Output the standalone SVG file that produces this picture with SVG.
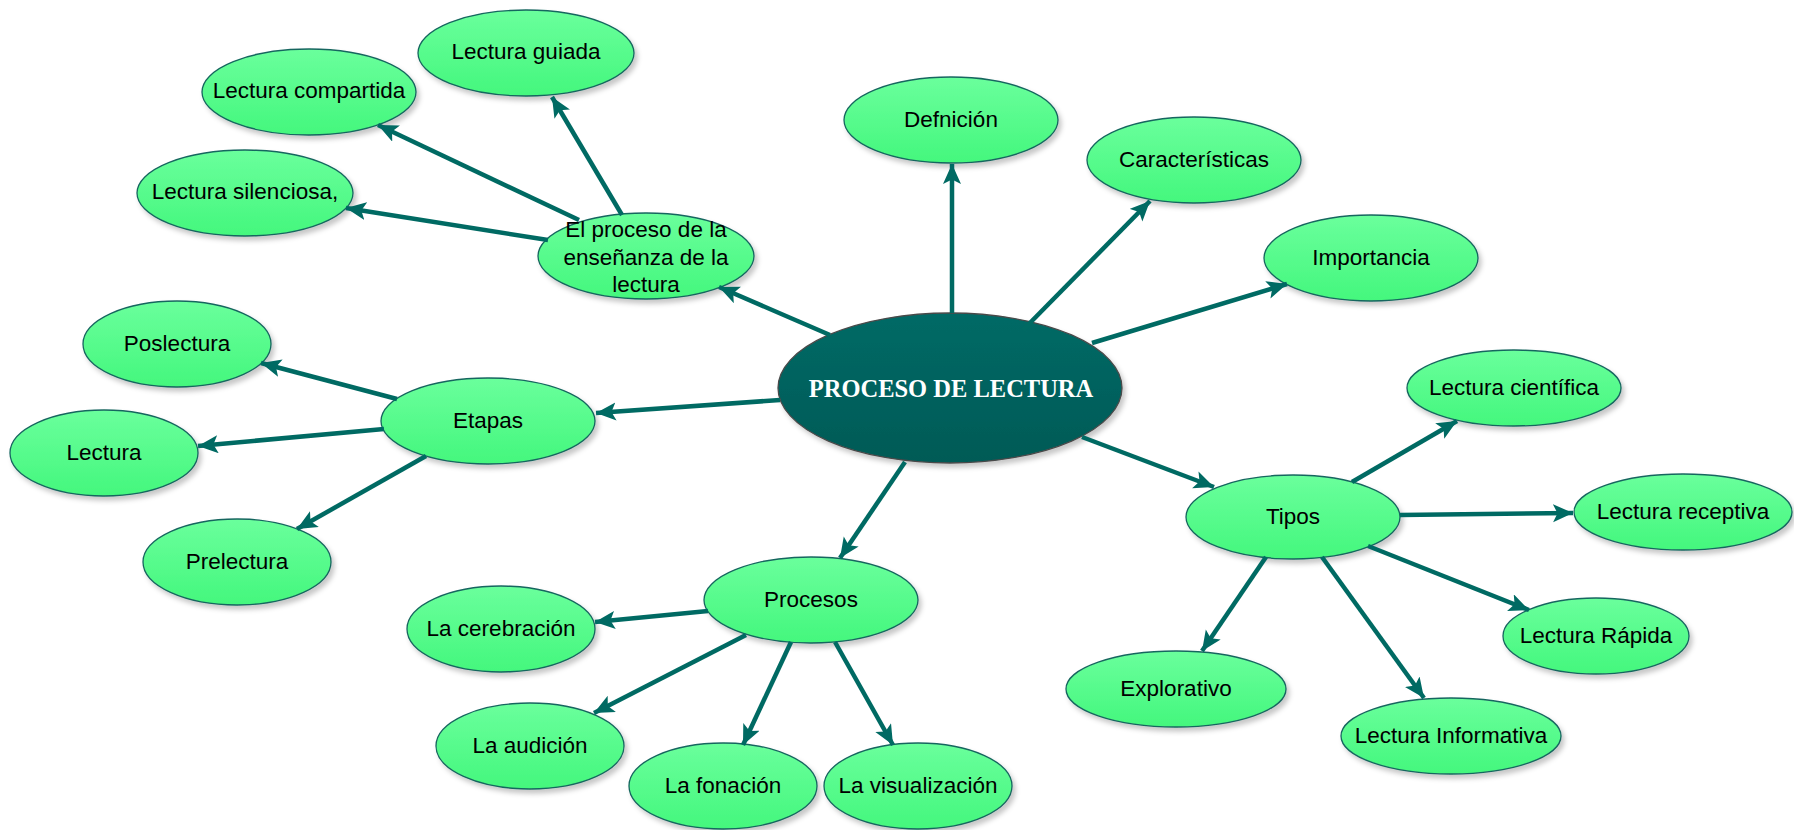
<svg xmlns="http://www.w3.org/2000/svg" width="1794" height="830" viewBox="0 0 1794 830">
<defs>
<linearGradient id="gGreen" x1="0" y1="0" x2="0" y2="1">
<stop offset="0" stop-color="#6AFF9C"/>
<stop offset="1" stop-color="#44F77D"/>
</linearGradient>
<linearGradient id="gDark" x1="0" y1="0" x2="0" y2="1">
<stop offset="0" stop-color="#006A66"/>
<stop offset="1" stop-color="#005A56"/>
</linearGradient>
<filter id="shadow" x="-10%" y="-10%" width="125%" height="130%">
<feDropShadow dx="3" dy="4" stdDeviation="2.5" flood-color="#000" flood-opacity="0.22"/>
</filter>
<marker id="arrow" markerUnits="userSpaceOnUse" markerWidth="22" markerHeight="20" refX="20" refY="9" orient="auto">
<path d="M0,0 L20,9 L0,18 L4.5,9 Z" fill="#006A63"/>
</marker>
</defs>
<style>
.node ellipse{fill:url(#gGreen);stroke:#17665F;stroke-width:1.3;filter:url(#shadow)}
.node text{font-family:"Liberation Sans",Arial,sans-serif;font-size:22.5px;fill:#000;text-anchor:middle}
#central ellipse{fill:url(#gDark);stroke:#4A4A4A;stroke-width:1.3;filter:url(#shadow)}
#central text{font-family:"Liberation Serif","Times New Roman",serif;font-weight:bold;font-size:24.5px;fill:#fff;text-anchor:middle}
#connectors line{stroke:#006A63;stroke-width:4.5;marker-end:url(#arrow)}
</style>

<g id="nodes">
<g id="central"><ellipse cx="950" cy="388" rx="172" ry="75"/><text x="951" y="397">PROCESO DE LECTURA</text></g>
<g id="definicion" class="node"><ellipse cx="951" cy="120" rx="107" ry="43"/><text x="951" y="127">Defnición</text></g>
<g id="caracteristicas" class="node"><ellipse cx="1194" cy="160" rx="107" ry="43"/><text x="1194" y="167">Características</text></g>
<g id="importancia" class="node"><ellipse cx="1371" cy="258" rx="107" ry="43"/><text x="1371" y="265">Importancia</text></g>
<g id="guiada" class="node"><ellipse cx="526" cy="53" rx="108" ry="43"/><text x="526" y="59">Lectura guiada</text></g>
<g id="compartida" class="node"><ellipse cx="309" cy="92" rx="107" ry="43"/><text x="309" y="98">Lectura compartida</text></g>
<g id="silenciosa" class="node"><ellipse cx="245" cy="193" rx="108" ry="43"/><text x="245" y="199">Lectura silenciosa,</text></g>
<g id="proceso-ensenanza" class="node"><ellipse cx="646" cy="256" rx="108" ry="43"/><text x="646" y="237">El proceso de la</text><text x="646" y="264.5">enseñanza de la</text><text x="646" y="292">lectura</text></g>
<g id="etapas" class="node"><ellipse cx="488" cy="421" rx="107" ry="43"/><text x="488" y="428">Etapas</text></g>
<g id="poslectura" class="node"><ellipse cx="177" cy="344" rx="94" ry="43"/><text x="177" y="351">Poslectura</text></g>
<g id="lectura" class="node"><ellipse cx="104" cy="453" rx="94" ry="43"/><text x="104" y="460">Lectura</text></g>
<g id="prelectura" class="node"><ellipse cx="237" cy="562" rx="94" ry="43"/><text x="237" y="569">Prelectura</text></g>
<g id="procesos" class="node"><ellipse cx="811" cy="600" rx="107" ry="43"/><text x="811" y="607">Procesos</text></g>
<g id="cerebracion" class="node"><ellipse cx="501" cy="629" rx="94" ry="43"/><text x="501" y="636">La cerebración</text></g>
<g id="audicion" class="node"><ellipse cx="530" cy="746" rx="94" ry="43"/><text x="530" y="753">La audición</text></g>
<g id="fonacion" class="node"><ellipse cx="723" cy="786" rx="94" ry="43"/><text x="723" y="793">La fonación</text></g>
<g id="visualizacion" class="node"><ellipse cx="918" cy="786" rx="94" ry="43"/><text x="918" y="793">La visualización</text></g>
<g id="tipos" class="node"><ellipse cx="1293" cy="517" rx="107" ry="42"/><text x="1293" y="524">Tipos</text></g>
<g id="explorativo" class="node"><ellipse cx="1176" cy="689" rx="110" ry="38"/><text x="1176" y="696">Explorativo</text></g>
<g id="informativa" class="node"><ellipse cx="1451" cy="736" rx="110" ry="38"/><text x="1451" y="743">Lectura Informativa</text></g>
<g id="rapida" class="node"><ellipse cx="1596" cy="636" rx="93" ry="38"/><text x="1596" y="643">Lectura Rápida</text></g>
<g id="receptiva" class="node"><ellipse cx="1683" cy="512" rx="109" ry="38"/><text x="1683" y="519">Lectura receptiva</text></g>
<g id="cientifica" class="node"><ellipse cx="1514" cy="388" rx="107" ry="38"/><text x="1514" y="395">Lectura científica</text></g>
</g>

<g id="connectors">
<line x1="952" y1="313" x2="952" y2="164"/>
<line x1="1023" y1="330" x2="1150" y2="201"/>
<line x1="1092" y1="343" x2="1287" y2="284"/>
<line x1="1082" y1="437" x2="1214" y2="487"/>
<line x1="905" y1="462" x2="840" y2="558"/>
<line x1="780" y1="400" x2="596" y2="413"/>
<line x1="830" y1="335" x2="719" y2="287"/>
<line x1="548" y1="240" x2="346" y2="208"/>
<line x1="579" y1="220" x2="378" y2="125"/>
<line x1="622" y1="215" x2="552" y2="97"/>
<line x1="397" y1="399" x2="261" y2="363"/>
<line x1="384" y1="429" x2="198" y2="446"/>
<line x1="426" y1="456" x2="297" y2="529"/>
<line x1="708" y1="611" x2="595" y2="622"/>
<line x1="746" y1="635" x2="594" y2="713"/>
<line x1="791" y1="642" x2="743" y2="745"/>
<line x1="835" y1="642" x2="893" y2="745"/>
<line x1="1352" y1="482" x2="1457" y2="421"/>
<line x1="1400" y1="515" x2="1573" y2="513"/>
<line x1="1368" y1="546" x2="1529" y2="610"/>
<line x1="1322" y1="557" x2="1424" y2="698"/>
<line x1="1266" y1="557" x2="1202" y2="651"/>
</g>
</svg>
